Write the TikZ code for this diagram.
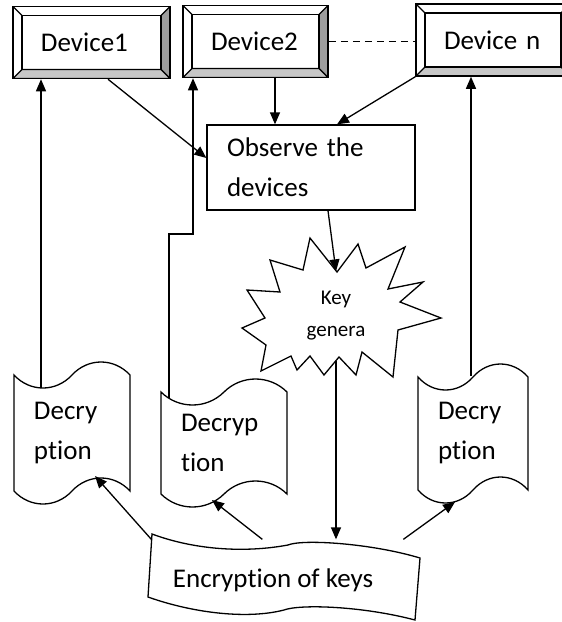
\documentclass[tikz,border=0pt]{standalone}
\usepackage{fontspec}
\setmainfont{Carlito}[Ligatures=NoCommon]
\usetikzlibrary{arrows.meta,shapes.symbols}

\tikzset{
  txt/.style={font=\fontsize{27}{40}\selectfont},
  arr/.style={-{Triangle[length=12pt,width=10pt]}},
  devbox/.style={draw, txt, line width=1.5pt, minimum height=72pt, inner ysep=0pt,
    inner xsep=28pt, align=left,
    path picture={
      \coordinate (bvnw) at (path picture bounding box.north west);
      \coordinate (bvne) at (path picture bounding box.north east);
      \coordinate (bvse) at (path picture bounding box.south east);
      \coordinate (bvsw) at (path picture bounding box.south west);
      \filldraw[fill=black!38, line width=1.2pt] (bvne) -- (bvse) -- ([shift={(-9pt,9pt)}]bvse) -- ([shift={(-9pt,-9pt)}]bvne) -- cycle;
      \filldraw[fill=black!22, line width=1.2pt] (bvsw) -- (bvse) -- ([shift={(-9pt,9pt)}]bvse) -- ([shift={(9pt,9pt)}]bvsw) -- cycle;
      \draw[line width=1.2pt] ([shift={(9pt,-9pt)}]bvnw) rectangle ([shift={(-9pt,9pt)}]bvse);
      \draw[line width=1.2pt] (bvnw) -- ([shift={(9pt,-9pt)}]bvnw);
    }},
  tapebox/.style={draw, shape=tape, txt, tape bend height=26pt, align=left, inner xsep=20pt}
}

\begin{document}
\begin{tikzpicture}[x=1pt, y=-1pt, line width=1.3pt]
\useasboundingbox (0,0) rectangle (562,622);

% the devices
\node[devbox, text width=101pt] (dev1) at (91.5,42.5) {Device1};
\node[devbox, text width=89pt] (dev2) at (255.5,41.5) {Device2};
\node[devbox, text width=98pt] (devn) at (493,40) {Device n};
\draw[dash pattern=on 7pt off 5pt] (dev2.east) -- (dev2.east -| devn.west);

% observer
\node[draw, txt, minimum width=208pt, minimum height=85pt, text width=168pt, inner xsep=20pt, align=left] (obs) at (311,167.5) {Observe the\\devices};

% key generation burst
\draw (270,260) -- (303,270) -- (310,238) -- (337,272) -- (358,244) -- (366,268)
  -- (405,247) -- (388,289) -- (423,282) -- (400,302) -- (441,318) -- (398,330)
  -- (393,377) -- (362,352) -- (356,375) -- (339,357) -- (324,375) -- (310,356)
  -- (297,370) -- (291,356) -- (261,371) -- (266,345) -- (242,328) -- (265,318)
  -- (247,290) -- (280,292) -- cycle;
\node[font=\fontsize{21}{32}\selectfont, align=center, minimum height=88pt] (key) at (336,316) {Key\\genera};

% decryption at each device
\node[tapebox, text width=76pt, minimum height=142pt] (dec1) at (72,433) {Decry\\ption};
\node[tapebox, text width=86pt, minimum height=128pt] (dec2) at (224,443) {Decryp\\tion};
\node[tapebox, text width=70pt, minimum height=139pt] (decn) at (473,433.5) {Decry\\ption};

% encryption of keys
\draw (152,534) .. controls (195,550) and (245,553) .. (288,545)
  .. controls (302,539) and (370,543) .. (420,558) -- (415,620)
  .. controls (362,606) and (300,604) .. (284,610)
  .. controls (245,620) and (190,612) .. (148,597) -- cycle;
\node[txt, minimum width=270pt, minimum height=80pt] (enc) at (273,580) {Encryption of keys};

% connections
\coordinate (d1top) at ([shift={(-31,-45)}]dec1.center);
\coordinate (d2top) at ([shift={(-55,-45)}]dec2.center);
\coordinate (dntop) at ([shift={(-2,-57.5)}]decn.center);
\coordinate (d2jog) at (193,234);
\draw[arr] (d1top) -- (d1top |- dev1.south);
\draw[arr] (d2top) |- (d2jog) -- (d2jog |- dev2.south);
\draw[arr] (dntop) -- (dntop |- devn.south);

\draw[arr] ([xshift=16.5pt]dev1.south) -- ([yshift=9.5pt]obs.west);
\draw[arr] ([xshift=19.5pt]dev2.south) coordinate (d2out) -- (d2out |- obs.north);
\draw[arr] (devn.south west) -- ([xshift=26pt]obs.north);
\draw[arr] ([xshift=17pt]obs.south) -- (key.north);
\draw[arr] (key.south) -- (key.south |- enc.north);

\draw[arr] ([xshift=14pt]enc.north west) -- ([shift={(23,43)}]dec1.center);
\draw[arr] ([xshift=125pt]enc.north west) -- ([shift={(-12,57)}]dec2.center);
\draw[arr] ([xshift=266pt]enc.north west) -- ([shift={(-18,68.5)}]decn.center);
\end{tikzpicture}
\end{document}
